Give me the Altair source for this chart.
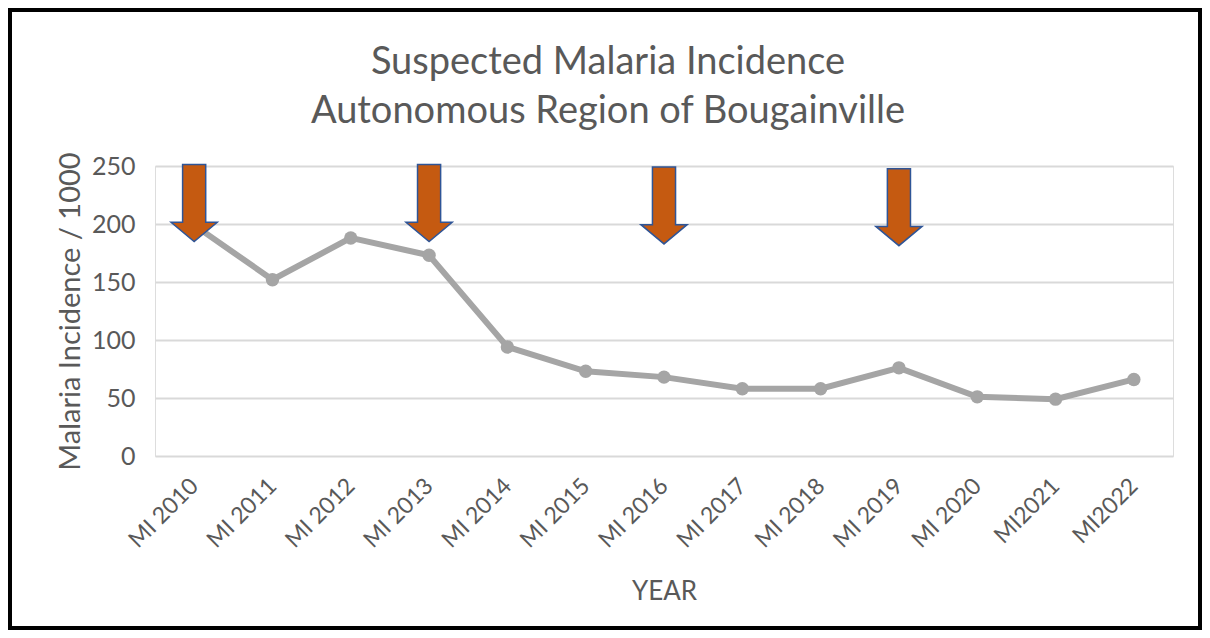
import altair as alt
import pandas as pd

# ---- data ----
years = ["MI 2010", "MI 2011", "MI 2012", "MI 2013", "MI 2014", "MI 2015", "MI 2016",
         "MI 2017", "MI 2018", "MI 2019", "MI 2020", "MI2021", "MI2022"]
incidence = [199, 152, 188, 173, 94, 73, 68, 58, 58, 76, 51, 49, 66]

arrow_years = ["MI 2010", "MI 2013", "MI 2016", "MI 2019"]
arrow_top = [250, 250, 250, 250]
arrow_tip = [186, 186, 182, 179]

title_line1 = "Suspected Malaria Incidence"
title_line2 = "Autonomous Region of Bougainville"
y_ticks = [0, 50, 100, 150, 200, 250]

FONT = "Lato"
TEXT = "#595959"

df = pd.DataFrame({"year": years, "value": incidence})
arrows = pd.DataFrame({
    "year": arrow_years,
    "mid": [(t + b) / 2 for t, b in zip(arrow_top, arrow_tip)],
})

x_enc = alt.X("year:N", sort=years,
              scale=alt.Scale(domain=years, paddingInner=0, paddingOuter=0.5),
              axis=alt.Axis(title="YEAR", labelAngle=-45, labelAlign="right",
                            labelBaseline="middle", labelPadding=26, ticks=False,
                            tickSize=0, domain=False, grid=False,
                            labelFontSize=23, titleFontSize=26, titlePadding=26,
                            labelColor=TEXT, titleColor=TEXT, labelFont=FONT,
                            titleFont=FONT, titleFontWeight="normal"))
y_scale = alt.Scale(domain=[0, 250], nice=False, zero=True)

line = alt.Chart(df).mark_line(color="#A5A5A5", strokeWidth=6).encode(
    x=x_enc,
    y=alt.Y("value:Q", scale=y_scale,
            axis=alt.Axis(title="Malaria Incidence / 1000", values=y_ticks,
                          ticks=False, tickSize=0, domain=False, grid=True,
                          gridColor="#D9D9D9", gridWidth=2, labelPadding=20,
                          labelFontSize=25, titleFontSize=29, titlePadding=6,
                          labelColor=TEXT, titleColor=TEXT, labelFont=FONT,
                          titleFont=FONT, titleFontWeight="normal")),
)
pts = alt.Chart(df).mark_circle(color="#A5A5A5", size=180, opacity=1).encode(
    x=alt.X("year:N", sort=years), y=alt.Y("value:Q", scale=y_scale))

arrow_path = "M -0.3 -1 L 0.3 -1 L 0.3 0.5 L 0.6 0.5 L 0 1 L -0.6 0.5 L -0.3 0.5 Z"
arrow_marks = alt.Chart(arrows).mark_point(
    shape=arrow_path, size=5929, filled=True, fill="#C55A11", fillOpacity=1,
    stroke="#2F5597", strokeWidth=1.5, opacity=1,
).encode(x=alt.X("year:N", sort=years), y=alt.Y("mid:Q", scale=y_scale))

one = pd.DataFrame({"f": [0]})
frame = alt.Chart(one).mark_rect(
    fill="white", fillOpacity=0, stroke="black", strokeWidth=4,
).encode(x=alt.value(-145), x2=alt.value(1045), y=alt.value(-156), y2=alt.value(462))

title_style = dict(font=FONT, fontSize=38, color=TEXT, align="center",
                   baseline="alphabetic")
t1 = alt.Chart(one).mark_text(text=title_line1, **title_style).encode(
    x=alt.value(453), y=alt.value(-92))
t2 = alt.Chart(one).mark_text(text=title_line2, **title_style).encode(
    x=alt.value(453), y=alt.value(-43))

chart = alt.layer(line, pts, arrow_marks, frame, t1, t2).properties(
    width=1018, height=290,
    autosize=alt.AutoSizeParams(type="none"),
    padding={"left": 147, "top": 158, "right": 29, "bottom": 174},
).configure_view(stroke="black", strokeWidth=3).configure(background="white")

chart.save("out.html", embed_options={"renderer": "svg", "actions": False})
